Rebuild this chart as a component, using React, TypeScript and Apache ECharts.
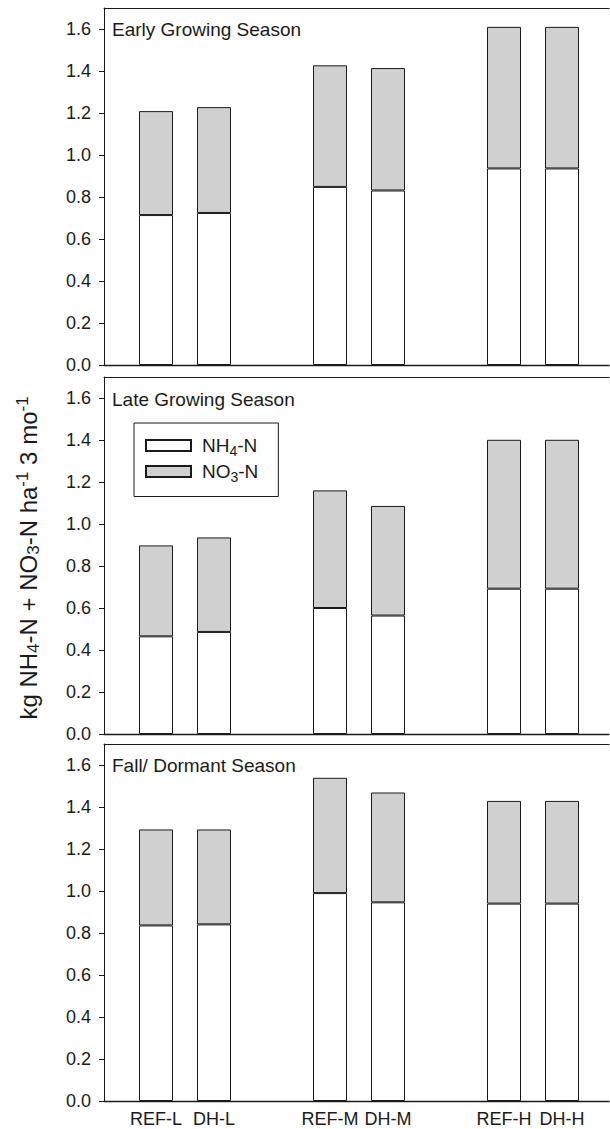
import React, { useEffect, useRef } from "react";
import * as echarts from "echarts";

// ---- data ----
const categories = ["REF-L", "DH-L", "REF-M", "DH-M", "REF-H", "DH-H"];
// slot number of each treatment on the x axis (slots 3 and 6 are the gaps between groups)
const xPositions = [1, 2, 4, 5, 7, 8];
const seasons = ["Early Growing Season", "Late Growing Season", "Fall/ Dormant Season"];

const nh4Early = [0.714, 0.724, 0.848, 0.831, 0.936, 0.936];
const no3Early = [0.495, 0.504, 0.579, 0.583, 0.674, 0.674];

const nh4Late = [0.465, 0.486, 0.6, 0.564, 0.692, 0.692];
const no3Late = [0.433, 0.45, 0.56, 0.522, 0.709, 0.709];

const nh4Fall = [0.836, 0.841, 0.99, 0.946, 0.94, 0.94];
const no3Fall = [0.457, 0.452, 0.549, 0.523, 0.489, 0.489];

const yTicks = [0, 0.2, 0.4, 0.6, 0.8, 1.0, 1.2, 1.4, 1.6];

const nh4Sets = [nh4Early, nh4Late, nh4Fall];
const no3Sets = [no3Early, no3Late, no3Fall];

const FONT = "'Liberation Sans', Arial, Helvetica, sans-serif";
const INK = "#1a1a1a";
const GRAY = "#d0d0d0";

const gridTops = [8, 377, 744];
const gridHeight = 357;
const gridLeft = 104;
const gridWidth = 505;
const slotPx = 58;
const nSlots = 8;
const barGridLeft = 156 - slotPx / 2;

// category slots, with gap slots between the groups
const slotNames: string[] = [];
for (let s = 1; s <= nSlots; s++) {
  const k = xPositions.indexOf(s);
  slotNames.push(k >= 0 ? categories[k] : "gap" + s);
}

function slotData(values: number[]) {
  const out: (number | string)[] = slotNames.map(() => "-");
  xPositions.forEach((s, j) => {
    out[s - 1] = values[j];
  });
  return out;
}

export default function App() {
  const ref = useRef<HTMLDivElement>(null);

  useEffect(() => {
    if (!ref.current) return;
    const chart = echarts.init(ref.current, null, { renderer: "svg" });

    const grids: any[] = [];
    const xAxes: any[] = [];
    const yAxes: any[] = [];
    const series: any[] = [];

    gridTops.forEach((top, i) => {
      grids.push({
        left: gridLeft,
        top,
        width: gridWidth,
        height: gridHeight,
        show: false,
      });
      grids.push({
        left: barGridLeft,
        top,
        width: slotPx * nSlots,
        height: gridHeight,
        show: false,
      });

      const fi = 2 * i;
      const bi = 2 * i + 1;

      xAxes.push({
        type: "value",
        gridIndex: fi,
        position: "bottom",
        min: 0,
        max: 1,
        axisLine: { show: true, onZero: false, lineStyle: { color: INK, width: 1.3 } },
        axisTick: { show: false },
        axisLabel: { show: false },
        splitLine: { show: false },
      });
      xAxes.push({
        type: "value",
        gridIndex: fi,
        position: "top",
        min: 0,
        max: 1,
        axisLine: { show: true, onZero: false, lineStyle: { color: INK, width: 1 } },
        axisTick: { show: false },
        axisLabel: { show: false },
        splitLine: { show: false },
      });
      xAxes.push({
        type: "category",
        gridIndex: bi,
        data: slotNames,
        axisLine: { show: false },
        axisTick: { show: false },
        splitLine: { show: false },
        axisLabel: {
          show: i === 2,
          interval: 0,
          formatter: (v: string) => (v.startsWith("gap") ? "" : v),
          fontSize: 18,
          fontFamily: FONT,
          color: INK,
          margin: 9,
        },
      });

      yAxes.push({
        type: "value",
        gridIndex: fi,
        min: 0,
        max: 1.7,
        axisLine: { show: true, onZero: false, lineStyle: { color: INK, width: 1 } },
        axisTick: {
          show: true,
          inside: false,
          length: 5,
          customValues: yTicks,
          lineStyle: { color: INK },
        },
        splitLine: { show: false },
        axisLabel: {
          customValues: yTicks,
          formatter: (v: number) => v.toFixed(1),
          fontSize: 18,
          fontFamily: FONT,
          color: INK,
          margin: 13,
        },
      });
      yAxes.push({
        type: "value",
        gridIndex: bi,
        min: 0,
        max: 1.7,
        show: false,
      });

      const barX = 3 * i + 2;
      const barY = 2 * i + 1;

      series.push({
        type: "bar",
        name: "NH4-N",
        xAxisIndex: barX,
        yAxisIndex: barY,
        stack: "s" + i,
        barWidth: 34,
        data: slotData(nh4Sets[i]),
        itemStyle: { color: "#ffffff", borderColor: INK, borderWidth: 1 },
      });
      series.push({
        type: "bar",
        name: "NO3-N",
        xAxisIndex: barX,
        yAxisIndex: barY,
        stack: "s" + i,
        barWidth: 34,
        data: slotData(no3Sets[i]),
        itemStyle: { color: GRAY, borderColor: INK, borderWidth: 1 },
      });
    });

    const titleCenters = [29, 399, 765.5];

    const option: any = {
      animation: false,
      backgroundColor: "#ffffff",
      grid: grids,
      xAxis: xAxes,
      yAxis: yAxes,
      series,
      legend: {
        data: ["NH4-N", "NO3-N"],
        orient: "vertical",
        left: 134,
        top: 423,
        padding: [13, 20, 13, 11],
        itemWidth: 45,
        itemHeight: 11,
        itemGap: 4.5,
        borderColor: INK,
        borderWidth: 1,
        selectedMode: false,
        icon: "rect",
        formatter: (name: string) =>
          name === "NH4-N" ? "{n|NH}{s|4}{n|-N}" : "{n|NO}{s|3}{n|-N}",
        textStyle: {
          padding: [0, 0, 0, 6],
          rich: {
            n: { fontSize: 19, fontFamily: FONT, color: INK, lineHeight: 24 },
            s: {
              fontSize: 14,
              fontFamily: FONT,
              color: INK,
              lineHeight: 10,
              verticalAlign: "bottom",
            },
          },
        },
      },
      graphic: [
        ...seasons.map((s, i) => ({
          type: "text",
          x: 112,
          y: titleCenters[i],
          style: {
            text: s,
            fontSize: 19,
            fontFamily: FONT,
            fill: INK,
            verticalAlign: "middle",
          },
        })),
        {
          type: "text",
          x: 28,
          y: 558,
          rotation: Math.PI / 2,
          style: {
            text: "{n|kg NH}{s|4}{n|-N + NO}{s|3}{n|-N ha}{p|-1}{n| 3 mo}{p|-1}",
            align: "center",
            verticalAlign: "middle",
            rich: {
              n: { fontSize: 24, fontFamily: FONT, fill: INK, lineHeight: 28 },
              s: {
                fontSize: 17,
                fontFamily: FONT,
                fill: INK,
                lineHeight: 10,
                verticalAlign: "bottom",
              },
              p: {
                fontSize: 17,
                fontFamily: FONT,
                fill: INK,
                lineHeight: 10,
                verticalAlign: "top",
              },
            },
          },
        },
      ],
    };

    chart.setOption(option);
    return () => chart.dispose();
  }, []);

  return (
    <div
      ref={ref}
      style={{ position: "fixed", left: 0, top: 0, width: 610, height: 1129, background: "#fff" }}
    />
  );
}
